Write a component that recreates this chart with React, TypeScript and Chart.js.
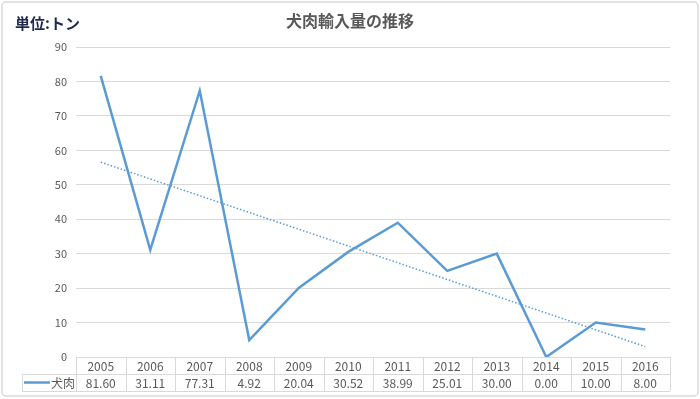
import React, { useEffect, useRef } from "react";
import { Chart, registerables } from "chart.js";

Chart.register(...registerables);

const categories = ["2005", "2006", "2007", "2008", "2009", "2010", "2011", "2012", "2013", "2014", "2015", "2016"];
const seriesName = "犬肉";
const values = [81.6, 31.11, 77.31, 4.92, 20.04, 30.52, 38.99, 25.01, 30.0, 0.0, 10.0, 8.0];
const yTicks = [0, 10, 20, 30, 40, 50, 60, 70, 80, 90];
const titleText = "犬肉輸入量の推移";
const unitText = "単位:トン";

const FONT = "'Noto Sans CJK JP', 'Noto Sans', sans-serif";
const BLUE = "#5b9bd5";
const GRID = "#d9d9d9";
const TEXT = "#595959";

function linearTrend(v: number[]): number[] {
  const n = v.length;
  const mx = (n - 1) / 2;
  const my = v.reduce((a, b) => a + b, 0) / n;
  let num = 0, den = 0;
  v.forEach((y, i) => { num += (i - mx) * (y - my); den += (i - mx) * (i - mx); });
  const b = num / den;
  return v.map((_, i) => my + b * (i - mx));
}

const framePlugin = {
  id: "frame",
  beforeDraw(chart: any) {
    const ctx = chart.ctx;
    ctx.save();
    ctx.fillStyle = "#ffffff";
    ctx.fillRect(0, 0, chart.width, chart.height);
    ctx.strokeStyle = GRID;
    ctx.lineWidth = 1.5;
    ctx.beginPath();
    (ctx as any).roundRect(2, 2, chart.width - 4, chart.height - 5, 4);
    ctx.stroke();
    ctx.restore();
  },
  afterDraw(chart: any) {
    const ctx = chart.ctx;
    const x = chart.scales.x;
    const area = chart.chartArea;
    const colW = (area.right - area.left) / categories.length;
    const top = area.bottom;
    const rowH = 17;
    ctx.save();
    // title
    ctx.fillStyle = TEXT;
    ctx.font = `bold 16px ${FONT}`;
    ctx.textAlign = "center";
    ctx.textBaseline = "middle";
    ctx.fillText(titleText, 350, 21);
    // unit
    ctx.fillStyle = "#1f2a50";
    ctx.font = `bold 15px ${FONT}`;
    ctx.textAlign = "left";
    ctx.fillText(unitText, 15, 23);
    // table lines
    ctx.strokeStyle = GRID;
    ctx.lineWidth = 1;
    ctx.beginPath();
    ctx.moveTo(area.left, top + 0.5);
    ctx.lineTo(area.right, top + 0.5);
    ctx.moveTo(22, top + rowH + 0.5);
    ctx.lineTo(area.right, top + rowH + 0.5);
    ctx.moveTo(22, top + 2 * rowH + 0.5);
    ctx.lineTo(area.right, top + 2 * rowH + 0.5);
    ctx.moveTo(22.5, top + rowH);
    ctx.lineTo(22.5, top + 2 * rowH);
    for (let i = 0; i <= categories.length; i++) {
      const px = Math.round(area.left + i * colW) + 0.5;
      ctx.moveTo(px, top);
      ctx.lineTo(px, top + 2 * rowH);
    }
    ctx.stroke();
    // table text
    ctx.fillStyle = TEXT;
    ctx.font = `12px ${FONT}`;
    ctx.textAlign = "center";
    categories.forEach((c, i) => {
      const cx = x.getPixelForValue(i);
      ctx.fillText(c, cx, top + rowH / 2 + 1);
      ctx.fillText(values[i].toFixed(2), cx, top + rowH * 1.5 + 1);
    });
    // legend key
    ctx.strokeStyle = BLUE;
    ctx.lineWidth = 2.5;
    ctx.beginPath();
    ctx.moveTo(24, top + rowH * 1.5);
    ctx.lineTo(50, top + rowH * 1.5);
    ctx.stroke();
    ctx.textAlign = "left";
    ctx.fillText(seriesName, 51, top + rowH * 1.5 + 1);
    ctx.restore();
  },
};

export default function App() {
  const ref = useRef<HTMLCanvasElement | null>(null);
  useEffect(() => {
    document.body.style.margin = "0";
    const trend = linearTrend(values);
    const chart = new Chart(ref.current as HTMLCanvasElement, {
      type: "line",
      data: {
        labels: categories,
        datasets: [
          {
            label: seriesName,
            data: values,
            borderColor: BLUE,
            borderWidth: 2.5,
            pointRadius: 0,
            tension: 0,
          },
          {
            label: "trend",
            data: trend,
            borderColor: BLUE,
            borderWidth: 1.5,
            borderDash: [1.5, 2],
            pointRadius: 0,
            tension: 0,
          },
        ],
      },
      options: {
        animation: false,
        responsive: false,
        maintainAspectRatio: false,
        layout: { padding: { left: 0, right: 30, top: 47, bottom: 42 } },
        plugins: { legend: { display: false }, title: { display: false }, tooltip: { enabled: false } },
        scales: {
          x: { display: false, offset: true },
          y: {
            min: 0,
            max: 90,
            afterFit: (s: any) => { s.width = 76; },
            afterBuildTicks: (s: any) => { s.ticks = yTicks.map((v) => ({ value: v })); },
            border: { display: false },
            grid: { color: GRID, drawTicks: false },
            ticks: { color: TEXT, font: { family: FONT, size: 11 }, padding: 9 },
          },
        },
      },
      plugins: [framePlugin],
    });
    return () => chart.destroy();
  }, []);
  return (
    <div style={{ width: 700, height: 399 }}>
      <canvas ref={ref} width={700} height={399} style={{ display: "block" }} />
    </div>
  );
}
